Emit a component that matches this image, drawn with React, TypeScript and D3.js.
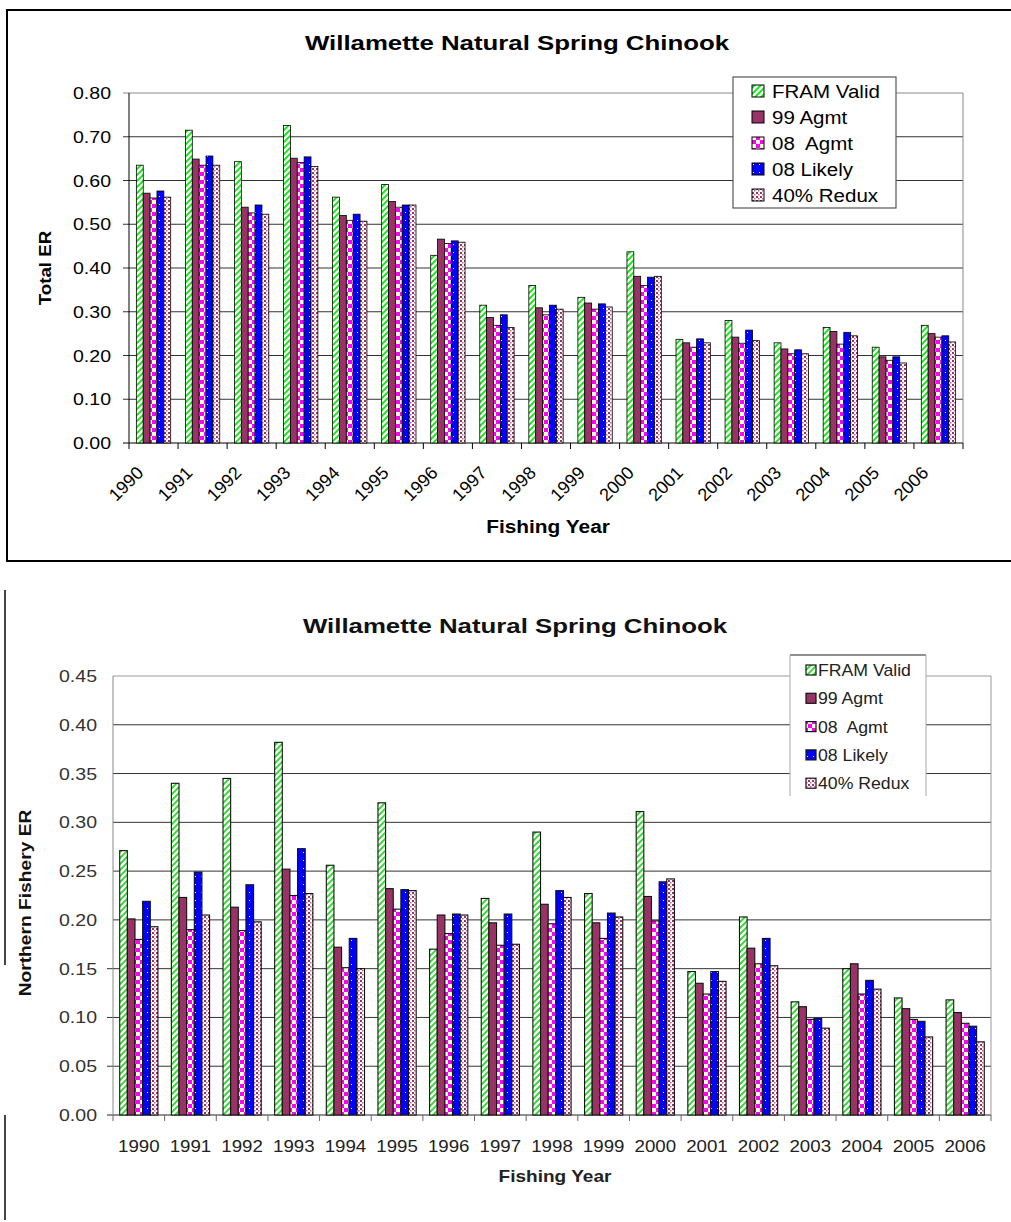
import React from "react";
import * as d3 from "d3";

const years = ["1990","1991","1992","1993","1994","1995","1996","1997","1998","1999","2000","2001","2002","2003","2004","2005","2006"];
const seriesNames = ["FRAM Valid", "99 Agmt", "08  Agmt", "08 Likely", "40% Redux"];

// Chart 1: Total ER
const totalFram = [0.635,0.715,0.643,0.726,0.562,0.591,0.429,0.315,0.360,0.333,0.437,0.237,0.280,0.229,0.264,0.219,0.269];
const total99 = [0.571,0.649,0.539,0.651,0.520,0.552,0.466,0.287,0.309,0.320,0.381,0.229,0.242,0.215,0.255,0.197,0.250];
const total08A = [0.560,0.635,0.526,0.641,0.509,0.539,0.456,0.269,0.293,0.306,0.360,0.219,0.228,0.204,0.226,0.189,0.242];
const total08L = [0.576,0.656,0.544,0.654,0.523,0.544,0.462,0.293,0.315,0.318,0.379,0.238,0.258,0.213,0.253,0.197,0.245];
const total40 = [0.562,0.635,0.523,0.632,0.507,0.544,0.459,0.264,0.306,0.311,0.381,0.229,0.234,0.204,0.245,0.183,0.231];
const totalTicks = [0,0.1,0.2,0.3,0.4,0.5,0.6,0.7,0.8];

// Chart 2: Northern Fishery ER
const northFram = [0.271,0.340,0.345,0.382,0.256,0.320,0.170,0.222,0.290,0.227,0.311,0.147,0.203,0.116,0.150,0.120,0.118];
const north99 = [0.201,0.223,0.213,0.252,0.172,0.232,0.205,0.197,0.216,0.197,0.224,0.135,0.171,0.111,0.155,0.109,0.105];
const north08A = [0.180,0.190,0.189,0.225,0.151,0.211,0.186,0.174,0.196,0.181,0.199,0.124,0.155,0.098,0.124,0.098,0.094];
const north08L = [0.219,0.249,0.236,0.273,0.181,0.231,0.206,0.206,0.230,0.207,0.239,0.147,0.181,0.099,0.138,0.096,0.091];
const north40 = [0.193,0.205,0.198,0.227,0.150,0.230,0.205,0.175,0.223,0.203,0.242,0.137,0.153,0.089,0.129,0.080,0.075];
const northTicks = [0,0.05,0.1,0.15,0.2,0.25,0.3,0.35,0.4,0.45];

const FONT = "'Liberation Sans', Arial, sans-serif";

function SText(props: any) {
  const { x, y, sx = 1, rotate = 0, anchor = "start", size, weight = "normal", fill = "#000", children } = props;
  return (
    <g transform={`translate(${x},${y}) rotate(${rotate}) scale(${sx},1)`}>
      <text textAnchor={anchor} fontSize={size} fontWeight={weight} fill={fill} fontFamily={FONT}
        style={{ whiteSpace: "pre" }}>{children}</text>
    </g>
  );
}

function Patterns({ p, green }: { p: string; green: string }) {
  return (
    <>
      <pattern id={`${p}fram`} patternUnits="userSpaceOnUse" width="6" height="6">
        <rect width="6" height="6" fill="#fff" />
        <path d="M-1,7 L7,-1 M-1,1 L1,-1 M5,7 L7,5" stroke={green} strokeWidth="1.8" />
      </pattern>
      <pattern id={`${p}a08`} patternUnits="userSpaceOnUse" width="8" height="8">
        <rect width="8" height="8" fill="#ff00ff" />
        <rect x="0" y="0" width="4" height="4" fill="#ffffcc" />
        <rect x="4" y="4" width="4" height="4" fill="#ffffcc" />
      </pattern>
      <pattern id={`${p}l08`} patternUnits="userSpaceOnUse" width="6" height="8">
        <rect width="6" height="8" fill="#0000ff" />
        <rect x="3" y="4" width="1" height="1" fill="#ffffff" />
      </pattern>
      <pattern id={`${p}r40`} patternUnits="userSpaceOnUse" width="4" height="4">
        <rect width="4" height="4" fill="#ffffff" />
        <rect x="0" y="0" width="2" height="2" fill="#993366" />
        <rect x="2" y="2" width="1.5" height="1.5" fill="#b36688" />
      </pattern>
    </>
  );
}

function fills(p: string) {
  return [`url(#${p}fram)`, "#993366", `url(#${p}a08)`, `url(#${p}l08)`, `url(#${p}r40)`];
}

function Bars({ data, x, y, inner, p, stroke, sw }: any) {
  const f = fills(p);
  return (
    <g>
      {data.map((arr: number[], si: number) =>
        arr.map((v, i) => {
          const x0 = (x(years[i]) as number) + (inner(seriesNames[si]) as number);
          return (
            <rect key={`${si}-${i}`} x={x0} y={y(v)} width={inner.bandwidth()} height={y(0) - y(v)}
              fill={f[si]} stroke={stroke} strokeWidth={sw} />
          );
        })
      )}
    </g>
  );
}

export default function App() {
  // ---------- Chart 1 ----------
  const c1 = { left: 129, right: 963, top: 93, bottom: 443 };
  const x1 = d3.scaleBand<string>().domain(years).range([c1.left, c1.right]);
  const y1 = d3.scaleLinear().domain([0, 0.8]).range([c1.bottom, c1.top]);
  const bw1 = x1.bandwidth();
  const in1 = d3.scaleBand<string>().domain(seriesNames).range([bw1 * 0.15, bw1 * 0.85]);
  const data1 = [totalFram, total99, total08A, total08L, total40];

  // ---------- Chart 2 ----------
  const c2 = { left: 113, right: 991, top: 676, bottom: 1115 };
  const x2 = d3.scaleBand<string>().domain(years).range([c2.left, c2.right]);
  const y2 = d3.scaleLinear().domain([0, 0.45]).range([c2.bottom, c2.top]);
  const bw2 = x2.bandwidth();
  const in2 = d3.scaleBand<string>().domain(seriesNames).range([bw2 * 0.13, bw2 * 0.87]);
  const data2 = [northFram, north99, north08A, north08L, north40];

  const f1 = fills("c1");
  const f2 = fills("c2");

  return (
    <svg width={1011} height={1222} style={{ position: "absolute", left: 0, top: 0, background: "#fff" }}
      fontFamily={FONT}>
      <defs>
        <Patterns p="c1" green="#00ee00" />
        <Patterns p="c2" green="#22dd22" />
      </defs>
      <rect x={0} y={0} width={1011} height={1222} fill="#fff" />

      {/* ================= Chart 1 ================= */}
      <rect x={7} y={10} width={1012} height={551} fill="none" stroke="#000" strokeWidth={2} />
      <SText x={517} y={50} sx={1.23} anchor="middle" size={21} weight="bold">Willamette Natural Spring Chinook</SText>

      {totalTicks.map((t) => (
        <g key={`g1${t}`}>
          <line x1={c1.left - 6} x2={c1.right} y1={y1(t)} y2={y1(t)}
            stroke={t === 0.8 ? "#888" : t === 0 ? "#000" : "#333"} strokeWidth={1} />
          <SText x={111} y={y1(t) + 6} sx={1.15} anchor="end" size={17}>{t.toFixed(2)}</SText>
        </g>
      ))}
      <line x1={c1.left} x2={c1.left} y1={c1.top} y2={c1.bottom} stroke="#000" />
      <line x1={c1.right} x2={c1.right} y1={c1.top} y2={c1.bottom} stroke="#888" />

      <Bars data={data1} x={x1} y={y1} inner={in1} p="c1" stroke="#000" sw={0.8} />

      {years.map((yr) => (
        <line key={`t1${yr}`} x1={(x1(yr) as number)} x2={(x1(yr) as number)} y1={c1.bottom} y2={c1.bottom + 6} stroke="#000" />
      ))}
      <line x1={c1.right} x2={c1.right} y1={c1.bottom} y2={c1.bottom + 6} stroke="#000" />
      {years.map((yr) => (
        <SText key={`l1${yr}`} x={(x1(yr) as number) + bw1 / 2 - 9} y={c1.bottom + 31} rotate={-45}
          anchor="end" size={18}>{yr}</SText>
      ))}
      <SText x={548} y={533} sx={1.16} anchor="middle" size={18} weight="bold">Fishing Year</SText>
      <SText x={51} y={268} rotate={-90} sx={1.1} anchor="middle" size={17} weight="bold">Total ER</SText>

      {/* legend 1 */}
      <rect x={733} y={77} width={163} height={131} fill="#fff" stroke="#555" strokeWidth={1.2} />
      {seriesNames.map((s, i) => (
        <g key={`lg1${s}`}>
          <rect x={752} y={91 + i * 26 - 6} width={12} height={12} fill={f1[i]} stroke="#000" strokeWidth={1} />
          <SText x={772} y={91 + i * 26 + 7} sx={1.08} size={19}>{s}</SText>
        </g>
      ))}

      {/* ================= Chart 2 ================= */}
      <line x1={5} x2={5} y1={590} y2={965} stroke="#444" strokeWidth={2} />
      <line x1={5} x2={5} y1={1115} y2={1220} stroke="#444" strokeWidth={2} />
      <SText x={515} y={633} sx={1.23} anchor="middle" size={21} weight="bold" fill="#111">Willamette Natural Spring Chinook</SText>

      {northTicks.map((t) => (
        <g key={`g2${t}`}>
          <line x1={t <= 0.15 ? c2.left - 6 : c2.left} x2={c2.right} y1={y2(t)} y2={y2(t)}
            stroke={t === 0.45 ? "#999" : t === 0 ? "#222" : "#333"} strokeWidth={1} />
          <SText x={97} y={y2(t) + 6} sx={1.15} anchor="end" size={17} fill="#333">{t.toFixed(2)}</SText>
        </g>
      ))}
      <line x1={c2.left} x2={c2.left} y1={c2.top} y2={c2.bottom} stroke="#888" />
      <line x1={c2.right} x2={c2.right} y1={c2.top} y2={c2.bottom} stroke="#999" />

      <Bars data={data2} x={x2} y={y2} inner={in2} p="c2" stroke="#111" sw={1.1} />

      {years.map((yr) => (
        <line key={`t2${yr}`} x1={(x2(yr) as number)} x2={(x2(yr) as number)} y1={c2.bottom} y2={c2.bottom + 6} stroke="#666" />
      ))}
      <line x1={c2.right} x2={c2.right} y1={c2.bottom} y2={c2.bottom + 6} stroke="#666" />
      {years.map((yr) => (
        <SText key={`l2${yr}`} x={(x2(yr) as number) + bw2 / 2} y={1152} sx={1.1} anchor="middle" size={17} fill="#222">{yr}</SText>
      ))}
      <SText x={555} y={1182} sx={1.12} anchor="middle" size={17} weight="bold" fill="#222">Fishing Year</SText>
      <g transform="translate(31,903) rotate(-90) scale(1.13,1)">
        <text textAnchor="middle" fontSize={17} fill="#111" fontFamily={FONT}>
          <tspan fontWeight="bold">Northern Fishery </tspan><tspan fontWeight="bold">ER</tspan>
        </text>
      </g>

      {/* legend 2 */}
      <rect x={790} y={655} width={136} height={141} fill="#fff" />
      <line x1={790} x2={926} y1={655} y2={655} stroke="#222" strokeWidth={1.2} />
      <line x1={790} x2={790} y1={655} y2={796} stroke="#aaa" strokeWidth={1} />
      <line x1={926} x2={926} y1={655} y2={796} stroke="#aaa" strokeWidth={1} />
      {seriesNames.map((s, i) => (
        <g key={`lg2${s}`}>
          <rect x={806} y={670 + i * 28.3 - 5} width={10} height={10} fill={f2[i]} stroke="#111" strokeWidth={1.2} />
          <SText x={818} y={670 + i * 28.3 + 6} sx={1.04} size={17} fill="#222">{s}</SText>
        </g>
      ))}
    </svg>
  );
}
